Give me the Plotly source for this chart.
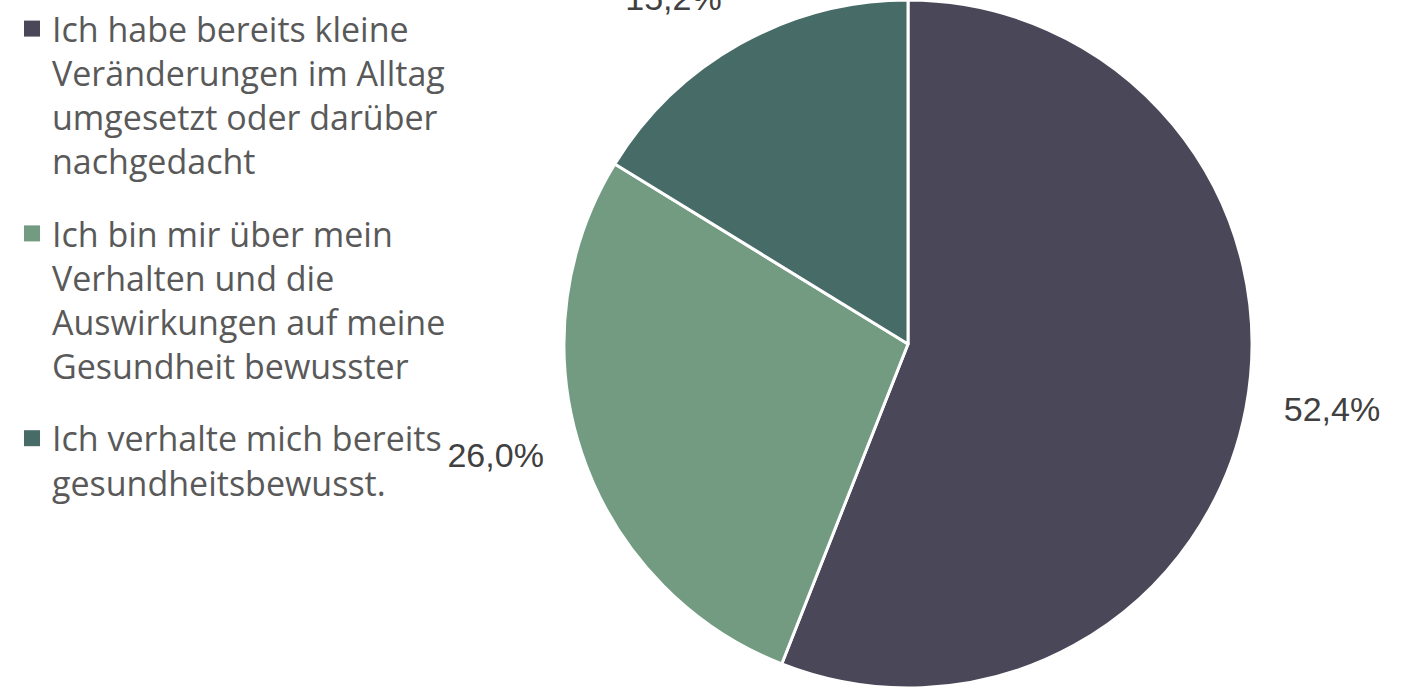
import plotly.graph_objects as go

# ---- data ----
legend_labels = [
    "Ich habe bereits kleine<br>Veränderungen im Alltag<br>umgesetzt oder darüber<br>nachgedacht",
    "Ich bin mir über mein<br>Verhalten und die<br>Auswirkungen auf meine<br>Gesundheit bewusster",
    "Ich verhalte mich bereits<br>gesundheitsbewusst.",
]
values = [52.4, 26.0, 15.2]
colors = ["#4A4858", "#729B81", "#476B67"]

W, H = 1406, 688
NB = "\u00a0"
LBL = "<span style='font-size:34px'>%{value:.1f}%</span>"

fig = go.Figure()

fig.add_trace(go.Pie(
    labels=legend_labels,
    values=values,
    sort=False,
    direction="clockwise",
    rotation=0,
    marker=dict(colors=colors, line=dict(color="white", width=3)),
    textposition="outside",
    # label padding (spacing from the pie edge, as in the original)
    texttemplate=[NB * 3 + LBL,
                  LBL + NB * 3,
                  LBL + "<br>" + NB],
    textfont=dict(family="Liberation Sans, Arial, sans-serif",
                  size=[34, 34, 28], color="#404040"),
    showlegend=False,
    hoverinfo="label+percent",
    domain=dict(x=[564 / W, 1252 / W], y=[0, 1]),
))

# legend entries (one group per category, so that the gap between items can be set)
for i, (lab, col) in enumerate(zip(legend_labels, colors)):
    fig.add_trace(go.Scatter(
        x=[None], y=[None], mode="markers",
        marker=dict(symbol="square", size=16, color=col),
        name=lab, legendgroup=f"g{i}", showlegend=True, hoverinfo="skip",
    ))

fig.update_layout(
    width=W, height=H,
    margin=dict(l=0, r=0, t=0, b=0, autoexpand=False),
    paper_bgcolor="white", plot_bgcolor="white",
    separators=",.",
    xaxis=dict(visible=False), yaxis=dict(visible=False),
    legend=dict(
        x=12 / W, y=1, xanchor="left", yanchor="top",
        font=dict(family="Open Sans", size=34, color="#595959"),
        traceorder="grouped", tracegroupgap=25, valign="top",
        bgcolor="rgba(0,0,0,0)",
    ),
)

fig.write_html("out.html", config={"displayModeBar": False},
               post_script="document.body.style.margin='0';")
